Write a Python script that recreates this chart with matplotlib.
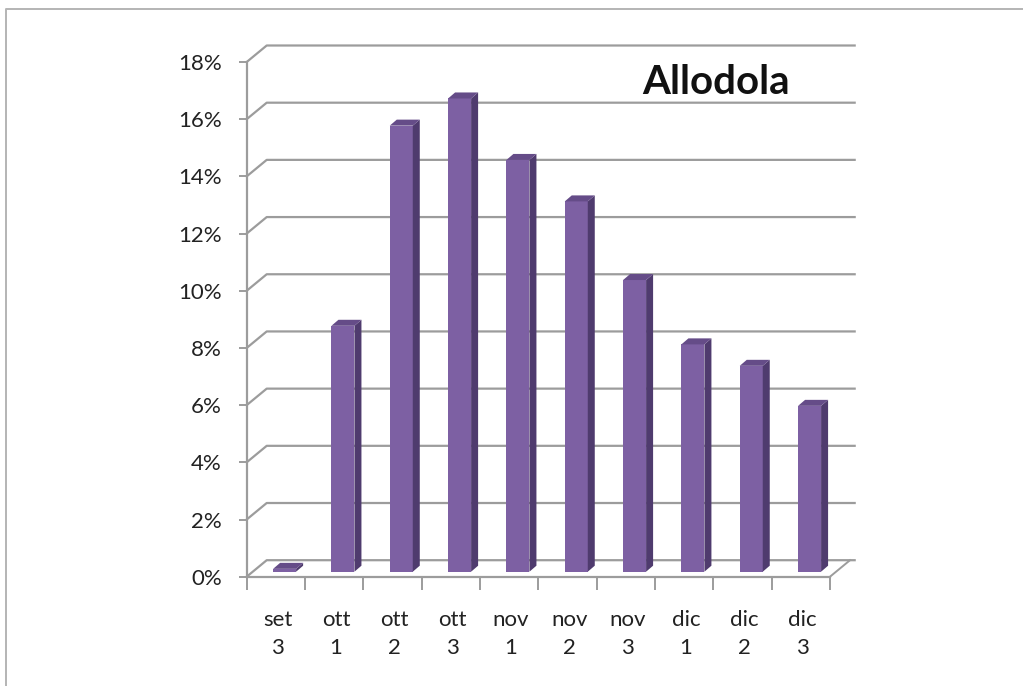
import matplotlib
matplotlib.use('Agg')
import matplotlib.pyplot as plt
from matplotlib.patches import Polygon
from matplotlib.lines import Line2D

categories = ['set\n3', 'ott\n1', 'ott\n2', 'ott\n3', 'nov\n1', 'nov\n2', 'nov\n3', 'dic\n1', 'dic\n2', 'dic\n3']
values = [0.1, 8.6, 15.6, 16.55, 14.4, 12.95, 10.2, 7.95, 7.2, 5.8]
y_ticks = [0, 2, 4, 6, 8, 10, 12, 14, 16, 18]

W, H = 1023, 686
plt.rcParams['font.family'] = ['Lato', 'DejaVu Sans']

fig = plt.figure(figsize=(W / 100, H / 100), dpi=100)
# frame of the pasted picture, only top and left show
fig.add_artist(Line2D([6 / W, 6 / W, 1], [0, 1 - 9 / H, 1 - 9 / H], transform=fig.transFigure,
                      color='#b4b4b4', lw=1.4))

x0, x1, y0, y1 = 246.7, 830, 576.7, 62
ax = fig.add_axes([x0 / W, 1 - y0 / H, (x1 - x0) / W, (y0 - y1) / H])
ax.set_xlim(0, 10)
ax.set_ylim(0, 18)
ax.patch.set_alpha(0)

px_x = (x1 - x0) / 10
px_y = (y0 - y1) / 18
wall_dx, wall_dy = 20 / px_x, 16.5 / px_y
bar_dx, bar_dy = 7 / px_x, 6 / px_y
bar_off_x, bar_off_y = 0.15, 5 / px_y
bar_w = 23 / px_x

grid = '#9c9c9c'
for v in y_ticks:
    ax.plot([0, wall_dx, 10 + wall_dx + 0.08], [v, v + wall_dy, v + wall_dy], color=grid, lw=1.6, clip_on=False, zorder=1)
ax.plot([10, 10 + wall_dx], [0, wall_dy], color=grid, lw=1.4, clip_on=False, zorder=1)

for i, v in enumerate(values):
    c = i + 0.5 + bar_off_x
    l, r = c - bar_w / 2, c + bar_w / 2
    b, t = bar_off_y, bar_off_y + v
    ax.bar(c, v, bar_w, bottom=b, color='#7d60a3', zorder=3, clip_on=False)
    ax.add_patch(Polygon([(r, b), (r + bar_dx, b + bar_dy), (r + bar_dx, t + bar_dy), (r, t)],
                         fc='#4f3b6e', ec='none', zorder=3, clip_on=False))
    ax.add_patch(Polygon([(l, t), (l + bar_dx, t + bar_dy), (r + bar_dx, t + bar_dy), (r, t)],
                         fc='#654c88', ec='none', zorder=3, clip_on=False))

for s in ['top', 'right']:
    ax.spines[s].set_visible(False)
for s in ['left', 'bottom']:
    ax.spines[s].set_color(grid)
    ax.spines[s].set_linewidth(1.6)
    ax.spines[s].set_zorder(2)

ax.set_yticks(y_ticks)
ax.set_yticklabels(['%d%%' % v for v in y_ticks], fontsize=16, color='#222222')
ax.tick_params(axis='y', length=6, width=1.4, color=grid, pad=12)
ax.set_xticks([i + 0.53 for i in range(10)])
ax.set_xticklabels(categories, fontsize=16, color='#222222', linespacing=1.5)
ax.set_xticks(range(11), minor=True)
ax.tick_params(axis='x', which='major', length=0, pad=24)
ax.tick_params(axis='x', which='minor', length=9, width=1.4, color=grid)

ax.text(8.05, 17.27, 'Allodola', fontsize=29, fontweight='bold', color='#111111', ha='center', va='center', zorder=5)

fig.savefig('out.png', dpi=100)
